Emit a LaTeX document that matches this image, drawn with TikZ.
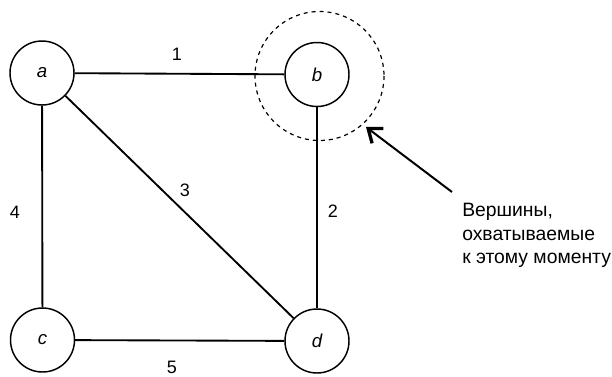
\documentclass[tikz,border=0pt]{standalone}
\usepackage{fontspec}
\setmainfont{Liberation Sans}
\usetikzlibrary{arrows.meta}
\begin{document}
\begin{tikzpicture}[x=0.75pt,y=-0.75pt,
  vertex/.style={circle,draw,line width=1.1pt,minimum size=48pt,inner sep=0pt,font=\fontsize{14}{16}\selectfont\itshape},
  edge/.style={line width=1.4pt},
  wlabel/.style={font=\fontsize{13.5}{16}\selectfont,inner sep=0pt},
  note/.style={font=\fontsize{14.5}{17.6}\selectfont,align=left,inner sep=0pt,anchor=north west}]
\useasboundingbox (0,0) rectangle (612,376);
\node[vertex] (a) at (42,73) {a};
\node[vertex] (b) at (317,74.5) {b};
\node[vertex] (c) at (42.5,340) {c};
\node[vertex] (d) at (317,341) {d};
\draw[dashed,line width=0.9pt] (319.5,76) circle[radius=64.5];
\coordinate (btarget) at (366,127);
\draw[edge] (a) -- (b);
\draw[edge] (b) -- (d);
\draw[edge] (a) -- (d);
\draw[edge] (a) -- (c);
\draw[edge] (c) -- (d);
\node[wlabel] (l1) at (177,54) {1};
\node[wlabel] (l2) at (333,211) {2};
\node[wlabel] (l3) at (185,190) {3};
\node[wlabel] (l4) at (15,212) {4};
\node[wlabel] (l5) at (172,367) {5};
\coordinate (tail) at (452,192);
\draw[line width=1.5pt,-{Straight Barb[length=9pt,width=14pt,line width=2.5pt]}] (tail) -- (btarget);
\node[note] (txt) at (462,203) {Вершины,\\охватываемые\\к этому моменту};
\end{tikzpicture}
\end{document}
